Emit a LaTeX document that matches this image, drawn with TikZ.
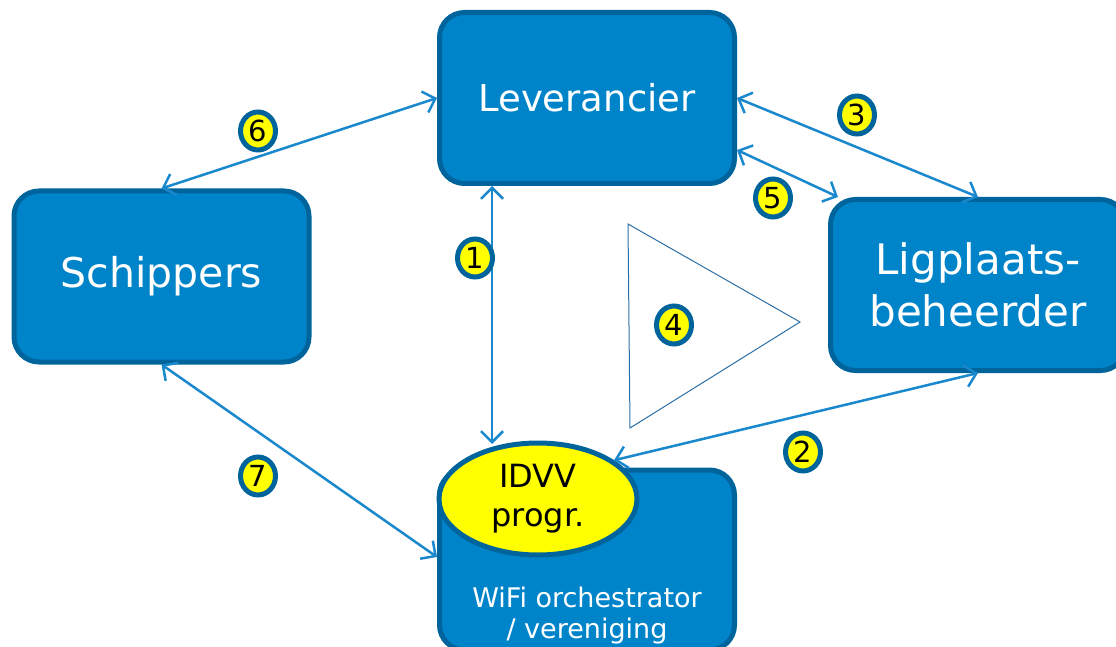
\documentclass[tikz,border=0pt]{standalone}
\usepackage{fontspec}
\setmainfont{DejaVu Sans}
\usetikzlibrary{arrows.meta,shapes.geometric}
\definecolor{boxfill}{HTML}{0084C9}
\definecolor{boxedge}{HTML}{00649C}
\definecolor{arrowblue}{HTML}{1A88CC}
\definecolor{triblue}{HTML}{2B6EA6}
\definecolor{yel}{HTML}{FFFF00}
\begin{document}
\begin{tikzpicture}[x=1pt,y=-1pt,
  box/.style={draw=boxedge, fill=boxfill, line width=5pt, rounded corners=25pt,
    minimum width=295pt, minimum height=171pt, inner sep=0pt, text=white, align=center},
  num/.style={ellipse, draw=boxedge, fill=yel, line width=5pt, minimum width=35pt,
    minimum height=38pt, inner sep=0pt, font=\fontsize{29}{29}\selectfont},
  conn/.style={draw=arrowblue, line width=2.5pt,
    {Straight Barb[length=11pt,width=22pt]}-{Straight Barb[length=11pt,width=22pt]}}]
\useasboundingbox (0,0) rectangle (1116,647);
% boxes
\node[box, font=\fontsize{37}{37}\selectfont] (lev) at (587,98) {Leverancier};
\node[box, font=\fontsize{41}{41}\selectfont] (sch) at (161.5,276.5) {Schippers};
\node[box, font=\fontsize{42}{52}\selectfont] (lig) at (978,285) {Ligplaats-\\beheerder};
\node[box, minimum height=180pt] (wifi) at (587,560) {};
\node[text=white, font=\fontsize{27}{31}\selectfont, align=center] (wifitxt) at (587,616) {WiFi orchestrator\\/ vereniging};
\node[ellipse, draw=boxedge, fill=yel, line width=5pt, minimum width=198pt, minimum height=112pt,
  inner sep=0pt, align=center, font=\fontsize{32}{39}\selectfont] (idvv) at (538,499) {IDVV\\progr.};
% triangle
\draw[triblue, line width=1pt, line join=miter] (628,224) -- (800,322) -- (630,428) -- cycle;
% connectors
\draw[conn] (lev.west) -- (sch.north);
\draw[conn] (lev.east) -- (lig.north);
\draw[conn] ([yshift=-52pt]lev.east) -- ([xshift=10pt]lig.north west);
\draw[conn] ([xshift=-95pt]lev.south) -- ++(0,258);
\draw[conn] (lig.south) -- (idvv.27);
\draw[conn] (sch.south) -- ([yshift=3pt]wifi.west);
% numbers
\node[num] (n1) at (475,258) {1};
\node[num] (n2) at (803,452) {2};
\node[num] (n3) at (857,115) {3};
\node[num] (n4) at (674,325) {4};
\node[num] (n5) at (773,198) {5};
\node[num] (n6) at (258,131) {6};
\node[num] (n7) at (258,476) {7};
\end{tikzpicture}
\end{document}
